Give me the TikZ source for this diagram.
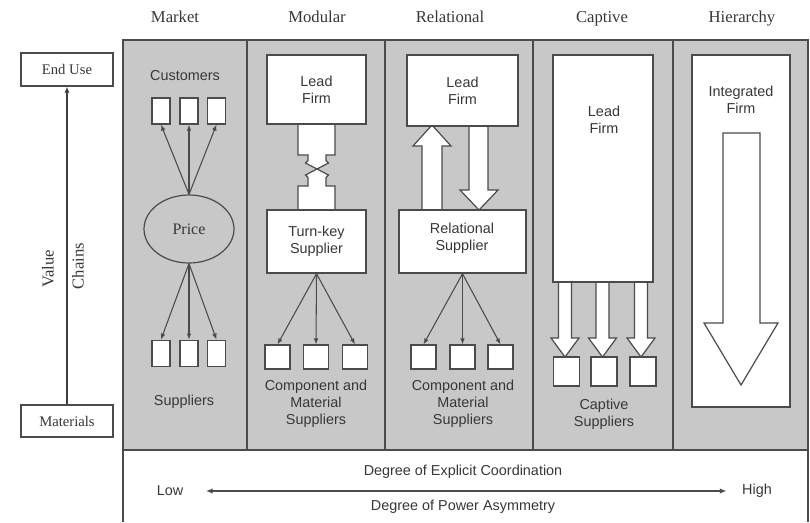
\documentclass[tikz,border=0pt]{standalone}
\usepackage{fontspec}
\setmainfont{Liberation Serif}
\setsansfont{Liberation Sans}
\usetikzlibrary{shapes.geometric,arrows.meta,calc}
\definecolor{panelgray}{RGB}{200,200,200}
\definecolor{edge}{RGB}{75,75,75}
\definecolor{ink}{RGB}{55,55,55}

\begin{document}
\begin{tikzpicture}[x=0.75pt,y=-0.75pt,
  title/.style={font=\fontsize{12.5}{15}\selectfont, text=ink, anchor=base},
  serifbox/.style={draw=edge, line width=1.1pt, fill=white,
    font=\fontsize{11}{13}\selectfont, text=ink, inner sep=0pt},
  lbl/.style={font=\sffamily\fontsize{10.8}{12.8}\selectfont, text=ink, align=center},
  firmbox/.style={draw=edge, line width=1.1pt, fill=white, inner sep=0pt,
    font=\sffamily\fontsize{10.8}{12.8}\selectfont, text=ink, align=center},
  smallbox/.style={draw=edge, line width=0.9pt, fill=white, inner sep=0pt},
  thinarrow/.style={draw=edge, line width=0.8pt, -{Latex[length=4.5pt,width=3.5pt]}},
  blockarrow/.style={draw=edge, line width=0.9pt, fill=white, line join=miter},
  divider/.style={draw=edge, line width=1.3pt}
]
\useasboundingbox (0,0) rectangle (810,522);

% ---- gray band with the five governance columns ----
\fill[panelgray] (123,40) rectangle (808,450);
\draw[divider] (123,522) -- (123,40) -- (808,40) -- (808,522);
\draw[divider] (123,450) -- (808,450);
\foreach \xd in {247,385,533,673} \draw[divider] (\xd,40) -- (\xd,450);

% ---- column titles ----
\node[title] (tmarket) at (175,22) {Market};
\node[title] (tmodular) at (317,22) {Modular};
\node[title] (trelational) at (450,22) {Relational};
\node[title] (tcaptive) at (602,22) {Captive};
\node[title] (thierarchy) at (742,22) {Hierarchy};

% ---- value chain axis on the left ----
\node[serifbox, minimum width=69pt, minimum height=24.75pt] (enduse) at (67,69.5) {End Use};
\node[serifbox, minimum width=69pt, minimum height=24pt] (materials) at (67,421) {Materials};
\draw[draw=edge!80!black, line width=1.6pt, -{Latex[length=4.5pt,width=4pt]}] (materials.north) -- (enduse.south);
\node[rotate=90, font=\fontsize{12.5}{15}\selectfont, text=ink] (value) at (48,269) {Value};
\node[rotate=90, font=\fontsize{12.5}{15}\selectfont, text=ink] (chains) at (78,266) {Chains};

% ---- Market ----
\node[lbl] (customers) at (185,76) {Customers};
\node[smallbox, minimum width=13.5pt, minimum height=19.5pt] (c1) at (161,111) {};
\node[smallbox, minimum width=13.5pt, minimum height=19.5pt] (c2) at (189,111) {};
\node[smallbox, minimum width=13.5pt, minimum height=19.5pt] (c3) at (216.5,111) {};
\node[ellipse, draw=edge, line width=0.9pt, fill=panelgray, minimum width=67.5pt,
  minimum height=51pt, inner sep=0pt, font=\fontsize{12}{14}\selectfont, text=ink] (price) at (189,229) {Price};
\node[smallbox, minimum width=13.5pt, minimum height=20pt] (s1) at (161,353.5) {};
\node[smallbox, minimum width=13.5pt, minimum height=20pt] (s2) at (189,353.5) {};
\node[smallbox, minimum width=13.5pt, minimum height=20pt] (s3) at (216.5,353.5) {};
\foreach \b in {c1,c2,c3} \draw[thinarrow] (price.north) -- (\b.south);
\foreach \b in {s1,s2,s3} \draw[thinarrow] (price.south) -- (\b.north);
\node[lbl] (mktsup) at (184,402) {Suppliers};

% ---- Modular: codified link between lead firm and turn-key supplier ----
\fill[white] (298,124) -- (298,155) -- (308,155) -- (308,160.5) -- (305.5,163) -- (317,169)
  -- (328.5,163) -- (326,160.5) -- (326,155) -- (335,155) -- (335,124) -- cycle;
\draw[draw=edge, line width=0.9pt] (298,124) -- (298,155) -- (308,155) -- (308,160.5) -- (305.5,163) -- (317,169)
  -- (328.5,163) -- (326,160.5) -- (326,155) -- (335,155) -- (335,124);
\fill[white] (298,210) -- (298,186) -- (308,186) -- (308,177.5) -- (305.5,175) -- (317,169)
  -- (328.5,175) -- (326,177.5) -- (326,186) -- (335,186) -- (335,210) -- cycle;
\draw[draw=edge, line width=0.9pt] (298,210) -- (298,186) -- (308,186) -- (308,177.5) -- (305.5,175) -- (317,169)
  -- (328.5,175) -- (326,177.5) -- (326,186) -- (335,186) -- (335,210);
\node[firmbox, minimum width=74.25pt, minimum height=51.75pt] (modlead) at (316.5,89.5) {Lead\\Firm};
\node[firmbox, minimum width=74.25pt, minimum height=47.25pt] (turnkey) at (316.5,241.5) {Turn-key\\Supplier};
\node[smallbox, minimum width=18.75pt, minimum height=18pt] (m1) at (277.5,357) {};
\node[smallbox, minimum width=18.75pt, minimum height=18pt] (m2) at (316,357) {};
\node[smallbox, minimum width=18.75pt, minimum height=18pt] (m3) at (355,357) {};
\foreach \b in {m1,m2,m3} \draw[thinarrow] (turnkey.south) -- (\b.north);
\node[lbl] (modsup) at (316,404) {Component and\\Material\\Suppliers};

% ---- Relational: two-way block arrows ----
\draw[blockarrow] (422,210) -- (422,146) -- (413,146) -- (432,125) -- (451,146) -- (442,146) -- (442,210);
\draw[blockarrow] (469,126) -- (469,190) -- (460,190) -- (479,210) -- (498,190) -- (488,190) -- (488,126);
\node[firmbox, minimum width=83.25pt, minimum height=53.25pt] (rellead) at (462.5,90.5) {Lead\\Firm};
\node[firmbox, minimum width=95.25pt, minimum height=47.25pt] (relsup) at (462.5,241.5) {};
\node[lbl] (relsupl) at (462,238.5) {Relational\\Supplier};
\node[smallbox, minimum width=18.75pt, minimum height=18pt] (r1) at (423.5,357) {};
\node[smallbox, minimum width=18.75pt, minimum height=18pt] (r2) at (462.5,357) {};
\node[smallbox, minimum width=18.75pt, minimum height=18pt] (r3) at (500.5,357) {};
\foreach \b in {r1,r2,r3} \draw[thinarrow] (relsup.south) -- (\b.north);
\node[lbl] (relcomp) at (463,404) {Component and\\Material\\Suppliers};

% ---- Captive ----
\foreach \cx in {565,602.5,641}
  \draw[blockarrow] (\cx-6.5,282) -- (\cx-6.5,338) -- (\cx-14,338) -- (\cx,357) -- (\cx+14,338) -- (\cx+6.5,338) -- (\cx+6.5,282);
\node[firmbox, minimum width=75pt, minimum height=170.25pt] (caplead) at (603,168.5) {};
\node[lbl] (capleadl) at (604,120) {Lead\\Firm};
\node[smallbox, minimum width=19.5pt, minimum height=21.75pt] (k1) at (566.5,371.5) {};
\node[smallbox, minimum width=19.5pt, minimum height=21.75pt] (k2) at (604,371.5) {};
\node[smallbox, minimum width=19.5pt, minimum height=21.75pt] (k3) at (643,371.5) {};
\node[lbl] (capsup) at (604,414) {Captive\\Suppliers};

% ---- Hierarchy ----
\node[firmbox, minimum width=73.5pt, minimum height=264pt] (integ) at (741,231) {};
\node[lbl] (integl) at (741,100) {Integrated\\Firm};
\draw[blockarrow] (723,133) -- (723,323) -- (704,323) -- (741,385) -- (778,323) -- (760,323) -- (760,133) -- cycle;

% ---- bottom scale ----
\node[lbl] (coord) at (463,472) {Degree of Explicit Coordination};
\node[lbl] (power) at (463,507) {Degree of Power Asymmetry};
\node[lbl, anchor=center] (low) at (170,491) {Low};
\node[lbl, anchor=center] (high) at (757,491) {High};
\draw[draw=edge, line width=0.9pt, {Latex[length=5pt,width=4pt]}-{Latex[length=5pt,width=4pt]}]
  ($(low.east)+(18,0)$) -- ($(high.west)+(-11,0)$);
\end{tikzpicture}
\end{document}
